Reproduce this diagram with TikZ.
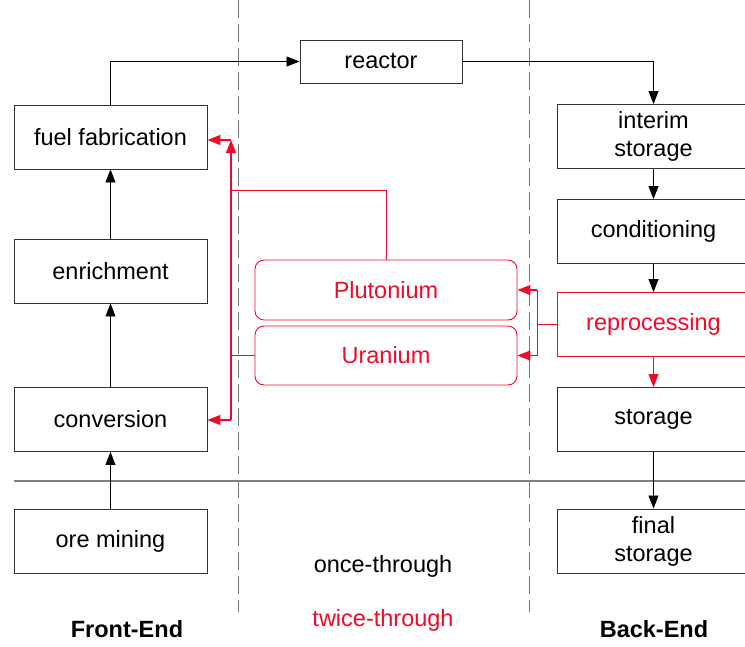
\documentclass[tikz,border=0pt]{standalone}
\usepackage{fontspec}
\setmainfont{Liberation Sans}
\usetikzlibrary{arrows.meta}
\definecolor{myred}{RGB}{240,10,40}
\begin{document}
\begin{tikzpicture}[x=1pt,y=-1pt,
  lbl/.style={font=\fontsize{23.5}{28}\selectfont},
  box/.style={lbl,draw=black!80,line width=0.9pt,minimum width=193pt,minimum height=64pt,inner sep=0pt,align=center},
  rbox/.style={lbl,draw=myred,text=myred,rounded corners=9pt,line width=0.9pt,minimum width=262pt,minimum height=59pt,inner sep=0pt},
  arr/.style={-{Triangle[length=13pt,width=10pt]},line width=0.8pt,draw=black},
  rarr/.style={-{Triangle[length=13pt,width=10pt]},line width=1.3pt,draw=myred},
  rline/.style={line width=1pt,draw=myred},
  sep/.style={draw=black!55,line width=0.7pt,dash pattern=on 18pt off 6pt}
]
\useasboundingbox (0,0) rectangle (745,646);
\clip (0,0) rectangle (745,646);
% separators
\draw[sep] (238,0) -- (238,612);
\draw[sep] (529,0) -- (529,612);
\draw[draw=black!50,line width=1.6pt] (14,481) -- (745,481);
% front end
\node[box] (fab) at (110.5,137) {fuel fabrication};
\node[box] (enr) at (110.5,271) {enrichment};
\node[box] (conv) at (110.5,419.5) {conversion};
\node[box] (ore) at (110.5,541) {ore mining};
% reactor
\node[box,minimum width=162pt,minimum height=43pt] (reac) at (381,61.5) {reactor};
% back end
\node[box] (int) at (653.5,136.5) {interim\\storage};
\node[box] (cond) at (653.5,231.5) {conditioning};
\node[box,draw=myred,text=myred] (rep) at (653.5,324.5) {reprocessing};
\node[box] (sto) at (653.5,419.5) {storage};
\node[box] (fin) at (653.5,541) {final\\storage};
% recycled material
\node[rbox,minimum height=60pt] (pu) at (386,290) {Plutonium};
\node[rbox] (u) at (386,355.5) {Uranium};
% labels
\node[lbl] (once) at (383,566) {once-through};
\node[lbl,text=myred] (twice) at (383,620) {twice-through};
\node[lbl,font=\fontsize{23.5}{28}\selectfont\bfseries] (fe) at (127,629) {Front-End};
\node[lbl,font=\fontsize{23.5}{28}\selectfont\bfseries] (be) at (654,629) {Back-End};
% black flow
\draw[arr] (ore) -- (conv);
\draw[arr] (conv) -- (enr);
\draw[arr] (enr) -- (fab);
\draw[arr] (fab.north) |- (reac.west);
\draw[arr] (reac.east) -| (int.north);
\draw[arr] (int) -- (cond);
\draw[arr] (cond) -- (rep);
\draw[arr,draw=myred,fill=myred] (rep) -- (sto);
\draw[arr] (sto) -- (fin);
% red recycling
\coordinate (rs) at (537,324.5);
\coordinate (rpu) at (537,290);
\coordinate (ru) at (537,355.5);
\draw[rline] (rep.west) -- (rs);
\draw[rline] (rpu) -- (ru);
\draw[rarr] (rpu) -- (pu.east);
\draw[rarr] (ru) -- (u.east);
\coordinate (ltop) at (231,140);
\coordinate (lmid) at (231,190);
\coordinate (lbot) at (231,420);
\coordinate (lu) at (231,355.5);
\draw[rline] (pu.north) |- (lmid);
\draw[rline] (u.west) -- (lu);
\draw[rarr] (lbot) -- (ltop);
\draw[rarr] (ltop) -- (fab.east |- ltop);
\draw[rarr] (lbot) -- (conv.east |- lbot);
\end{tikzpicture}
\end{document}
